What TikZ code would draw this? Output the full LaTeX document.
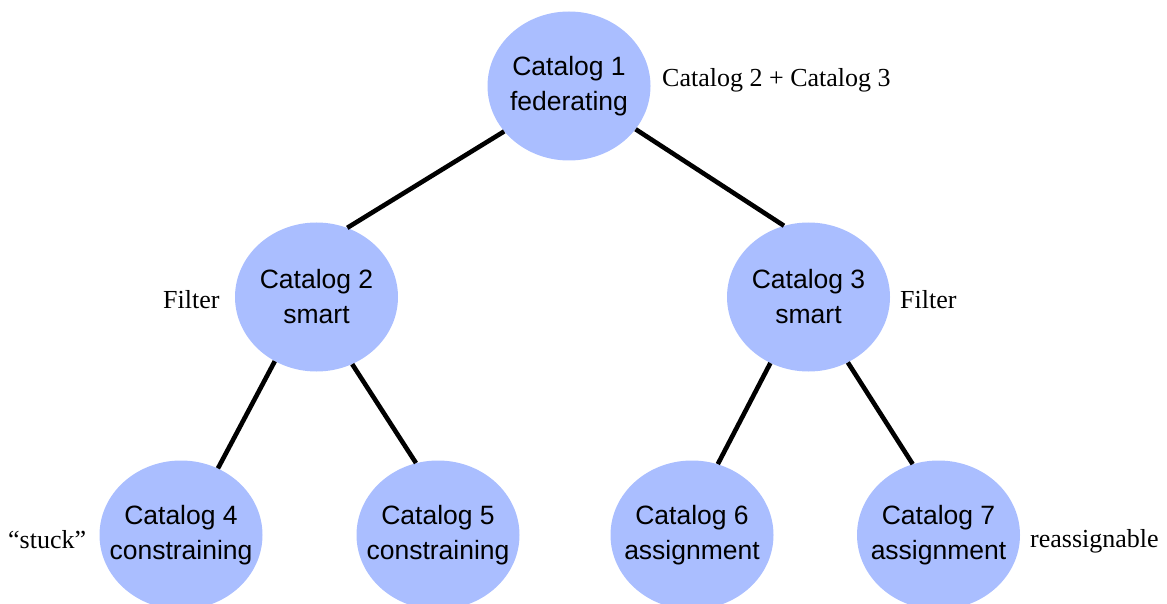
\documentclass[tikz,border=0pt]{standalone}
\usepackage{fontspec}
\setmainfont{Liberation Serif}
\newfontfamily\arialfont{Liberation Sans}
\usetikzlibrary{shapes.geometric}
\definecolor{catfill}{RGB}{170,190,255}
\tikzset{
  cat/.style={ellipse, fill=catfill, minimum width=163pt, minimum height=149pt,
    inner xsep=-50pt, inner ysep=0pt,
    align=center, font=\arialfont\fontsize{26.5}{35}\selectfont},
  lbl/.style={anchor=west, inner sep=0pt, font=\fontsize{26}{30}\selectfont},
  link/.style={line width=4.6pt, black}
}
\begin{document}
\begin{tikzpicture}[x=1pt,y=-1pt]
\useasboundingbox (0,0) rectangle (1167,604);
\node[cat] (c1) at (569,86) {Catalog 1\\federating};
\node[cat] (c2) at (316.5,297) {Catalog 2\\smart};
\node[cat] (c3) at (808.5,297) {Catalog 3\\smart};
\node[cat] (c4) at (181,535) {Catalog 4\\constraining};
\node[cat] (c5) at (438,535) {Catalog 5\\constraining};
\node[cat] (c6) at (692,535) {Catalog 6\\assignment};
\node[cat] (c7) at (938.5,535) {Catalog 7\\assignment};
\draw[link] (c1.215.7) -- (c2.66.5);
\draw[link] (c1.327.5) -- (c3.109.5);
\draw[link] (c2.237.4) -- (c4.61.1);
\draw[link] (c2.298.6) -- (c5.107.7);
\draw[link] (c3.240.4) -- (c6.70.8);
\draw[link] (c3.301.9) -- (c7.110.2);
\node[lbl] (l1) at (662,80) {Catalog 2 + Catalog 3};
\node[lbl] (l2) at (163,300) {Filter};
\node[lbl] (l3) at (900,300) {Filter};
\node[lbl] (l4) at (8,540) {“stuck”};
\node[lbl] (l5) at (1030,541) {reassignable};
\end{tikzpicture}
\end{document}
